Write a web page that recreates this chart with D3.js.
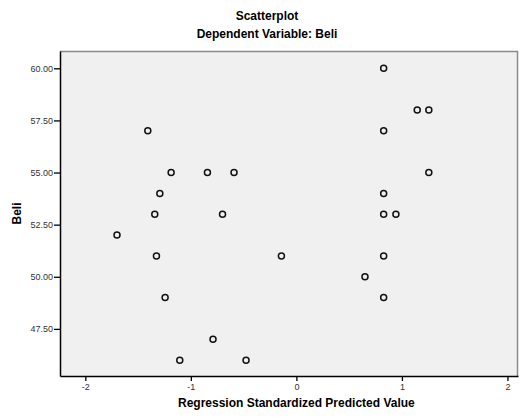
<!DOCTYPE html>
<html>
<head>
<meta charset="utf-8">
<script src="https://cdn.jsdelivr.net/npm/d3@7"></script>
<style>
  body { margin: 0; background: #fff; }
  text { font-family: "Liberation Sans", Arial, sans-serif; }
</style>
</head>
<body>
<div id="chart"></div>
<script>
// predicted value (standardized) and Beli
const predicted = [0.827, 1.145, 1.255, 0.827, 1.255, 0.827, 0.827, 0.943, 0.827, 0.65, 0.827,
                   -1.408, -1.187, -0.843, -0.591, -1.294, -1.342, -0.70, -1.70, -1.326, -0.142,
                   -1.244, -0.79, -1.105, -0.477];
const beli = [60, 58, 58, 57, 55, 54, 53, 53, 51, 50, 49,
              57, 55, 55, 55, 54, 53, 53, 52, 51, 51,
              49, 47, 46, 46];
const xTicks = [-2, -1, 0, 1, 2];
const yTicks = [47.5, 50, 52.5, 55, 57.5, 60];

const W = 520, H = 417;
const margin = {top: 51, right: 2, bottom: 41, left: 60};
const width = W - margin.left - margin.right;
const height = H - margin.top - margin.bottom;

const svg = d3.select("#chart").append("svg")
  .attr("width", W).attr("height", H);

const g = svg.append("g")
  .attr("transform", "translate(" + margin.left + "," + margin.top + ")");

const x = d3.scaleLinear().domain([-2.24, 2.1]).range([0, width]);
const y = d3.scaleLinear().domain([45.24, 60.83]).range([height, 0]);

// plot background + frame
g.append("rect").attr("width", width).attr("height", height).attr("fill", "#f0f0f0");
g.append("line").attr("x1", 0).attr("x2", width).attr("y1", 0.5).attr("y2", 0.5)
  .attr("stroke", "#8a8a8a").attr("stroke-width", 1.5);
g.append("line").attr("x1", width - 0.5).attr("x2", width - 0.5).attr("y1", 0).attr("y2", height)
  .attr("stroke", "#8a8a8a").attr("stroke-width", 1.5);

// axes (plain hyphen for negatives, like the original)
const xAxis = g.append("g")
  .attr("transform", "translate(0," + height + ")")
  .call(d3.axisBottom(x).tickValues(xTicks).tickFormat(d => String(d))
    .tickSize(5).tickSizeOuter(0).tickPadding(3));
const yAxis = g.append("g")
  .call(d3.axisLeft(y).tickValues(yTicks).tickFormat(d => d.toFixed(2))
    .tickSize(6).tickSizeOuter(0).tickPadding(1));

[xAxis, yAxis].forEach(a => {
  a.select(".domain").attr("stroke", "#000").attr("stroke-width", 1.5);
  a.selectAll(".tick line").attr("stroke", "#000").attr("stroke-width", 1.3);
  a.selectAll(".tick text").attr("fill", "#333").style("font-size", "9px")
    .style("font-family", "'Liberation Sans', Arial, sans-serif");
});

// points
g.selectAll("circle.pt")
  .data(predicted.map((p, i) => [p, beli[i]]))
  .enter().append("circle")
  .attr("class", "pt")
  .attr("cx", d => x(d[0]))
  .attr("cy", d => y(d[1]))
  .attr("r", 3)
  .attr("fill", "none")
  .attr("stroke", "#111")
  .attr("stroke-width", 1.5);

// titles
svg.append("text").attr("x", 267).attr("y", 20).attr("text-anchor", "middle")
  .style("font-size", "12px").style("font-weight", "bold").text("Scatterplot");
svg.append("text").attr("x", 267).attr("y", 38).attr("text-anchor", "middle")
  .style("font-size", "12px").style("font-weight", "bold").text("Dependent Variable: Beli");

// axis titles
svg.append("text").attr("x", margin.left + x(0)).attr("y", 407).attr("text-anchor", "middle")
  .style("font-size", "12px").style("font-weight", "bold").text("Regression Standardized Predicted Value");
svg.append("text")
  .attr("transform", "translate(21," + (margin.top + height / 2) + ") rotate(-90)")
  .attr("text-anchor", "middle")
  .style("font-size", "12px").style("font-weight", "bold").text("Beli");
</script>
</body>
</html>
